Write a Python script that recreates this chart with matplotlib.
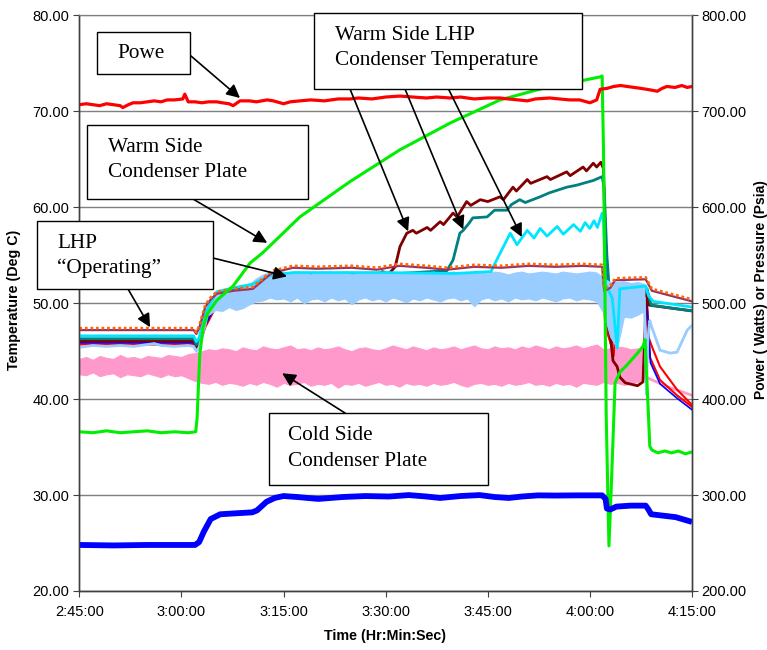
import numpy as np
import matplotlib
matplotlib.use("Agg")
import matplotlib.pyplot as plt
from matplotlib.patches import Rectangle

# ---------------- data (time in minutes after 2:45:00) ----------------
tick_minutes = [0, 15, 30, 45, 60, 75, 90]
tick_labels = ["2:45:00", "3:00:00", "3:15:00", "3:30:00", "3:45:00", "4:00:00", "4:15:00"]
temp_ticks = [20, 30, 40, 50, 60, 70, 80]
right_ticks = [200, 300, 400, 500, 600, 700, 800]

# Power (Watts, right axis)
t_power = [0, 1, 2, 3, 4, 5, 6, 6.4, 7.2, 7.9, 9, 10, 11, 12, 12.9, 14, 15.2, 15.5, 16.0, 17, 18, 19,
           20.2, 21, 22, 22.6, 23.6, 25, 26, 27.6, 28.5, 30.0, 31, 32.4, 34, 36, 38, 39.8, 41, 43, 45,
           47.1, 49, 51, 52.5, 54.5, 56, 58, 60, 61.8, 63, 64.5, 65.8, 67, 69.1, 70.5, 72, 73.5, 75.0,
           76.0, 76.5, 77.5, 78.5, 79.5, 80.5, 81.5, 82.5, 83.4, 84.2, 84.9, 85.6, 86.3, 87.5, 88.5, 89.3, 90]
power = [707, 708, 707, 706, 708, 707, 706, 704, 707, 709, 709, 710, 711, 710, 712, 712, 713, 718, 710, 710, 709, 710,
         710, 709, 708, 706, 711, 711, 710, 712, 711, 708, 710, 711, 712, 711, 713, 713, 714, 713, 715,
         716, 715, 714, 715, 714, 715, 713, 714, 714, 713, 712, 711, 713, 714, 713, 712, 712, 709,
         712, 723, 724, 726, 727, 726, 725, 724, 723, 722, 721, 724, 726, 725, 727, 725, 726]

# Pressure (psia, right axis)
t_press = [0, 5, 10, 15, 17.0, 17.6, 18.3, 19.3, 20.7, 23.0, 25.4, 26.1, 27.5, 28.7, 30.0, 32.0, 35.1, 38.7, 42.0,
           45.5, 48.4, 51.0, 53.0, 56.0, 58.8, 61.0, 63.1, 65.0, 67.4, 70.0, 73.0, 76.8, 77.3, 77.5, 78.0, 78.9,
           81.0, 83.2, 83.6, 84.0, 87.6, 90]
pressure = [248, 247.5, 248, 248, 248, 251, 262, 275, 280, 281, 282, 284, 293, 297, 299, 298, 296, 298, 299,
            298.5, 300, 298.5, 297, 299, 300, 298, 297, 298.5, 299.7, 299.5, 299.7, 299.7, 296, 286, 285, 288,
            289, 289, 285, 280, 277, 272]

# Green temperature
t_green = [0, 2, 4, 6, 8, 10, 12, 14, 16, 17.1, 17.3, 17.7, 18.2, 18.8, 20.2, 22.6, 25.1, 27.0, 32.4, 39.8,
           47.1, 54.5, 61.8, 69.1, 73.8, 76.5, 76.8, 77.0, 77.4, 77.8, 78.1, 78.7, 79.4, 80.5, 82.0, 82.8,
           83.1, 83.5, 83.8, 84.1, 85, 86, 87, 88, 89, 90]
green = [36.6, 36.5, 36.7, 36.5, 36.6, 36.7, 36.5, 36.6, 36.5, 36.6, 38.0, 44.7, 47.5, 48.9, 50.3, 51.8, 54.2,
         55.3, 59.0, 62.7, 66.0, 68.8, 71.2, 72.6, 73.2, 73.6, 73.7, 66.0, 38.2, 24.7, 30.0, 41.7, 42.8, 43.6,
         44.8, 45.5, 46.2, 40.0, 35.1, 34.7, 34.4, 34.6, 34.4, 34.6, 34.3, 34.5]

# Band temperatures
t_orange = [0, 8, 16.8, 17.2, 17.6, 18.5, 19.3, 20.2, 22.6, 25.5, 26.5, 28.0, 28.5, 31.4, 35, 40, 43.7, 47, 51,
            54, 58, 62, 66, 70, 74, 76.8, 77.1, 78.0, 78.7, 83.2, 84.1, 90]
orange = [47.4, 47.4, 47.4, 47.0, 47.6, 49.8, 50.6, 51.2, 51.5, 51.7, 52.3, 53.2, 53.4, 53.9, 53.8, 53.9, 53.7,
          54.1, 53.9, 53.7, 54.0, 53.9, 54.1, 54.0, 54.1, 54.0, 51.5, 51.8, 52.6, 52.7, 51.5, 50.4]
purple = [47.2, 47.2, 47.2, 46.8, 47.4, 49.6, 50.4, 51.0, 51.3, 51.5, 52.1, 53.0, 53.2, 53.7, 53.6, 53.7, 53.5,
          53.9, 53.7, 53.5, 53.8, 53.7, 53.9, 53.8, 53.9, 53.8, 51.3, 51.6, 52.4, 52.5, 51.3, 50.2]

t_cyan = [0, 16.8, 17.2, 17.6, 18.5, 20.2, 22.6, 25.5, 28.0, 31.4, 45, 55, 60.5, 60.8, 61.8, 63.3, 64.3, 65.8,
          66.8, 67.7, 68.7, 70.2, 71.1, 72.6, 73.6, 74.3, 75.0, 75.6, 76.1, 76.8, 77.0, 77.3, 78.3, 79.0, 79.4,
          83.2, 83.6, 84.3, 90]
cyan = [46.6, 46.6, 46.0, 46.4, 49.0, 51.2, 51.6, 52.0, 52.9, 53.2, 53.2, 53.1, 53.3, 53.8, 55.2, 57.3, 56.1,
        57.6, 56.8, 57.8, 57.0, 58.0, 57.2, 58.2, 57.5, 58.4, 57.8, 58.6, 57.9, 59.4, 58.5, 52.0, 50.5, 45.3,
        51.5, 51.8, 50.8, 50.2, 49.6]

t_teal = [0, 16.8, 17.2, 17.6, 18.5, 20.2, 22.6, 25.5, 28.0, 31.4, 34, 34.4, 34.8, 44, 44.3, 44.7, 54.0, 54.9,
          55.9, 56.4, 57.2, 57.8, 59.9, 61.0, 62.8, 63.5, 64.7, 65.5, 67.7, 69.0, 71.6, 73.0, 75.5, 76.8, 77.1,
          77.5, 78.0, 79.0, 79.4, 83.0, 83.4, 84.0, 90]
teal = [46.3, 46.3, 45.7, 46.1, 48.6, 51.0, 51.4, 51.8, 52.8, 53.0, 53.0, 52.0, 53.0, 53.0, 52.2, 53.0, 53.4,
        54.5, 57.3, 57.6, 58.3, 58.9, 59.0, 59.7, 59.7, 60.3, 60.8, 60.5, 61.1, 61.5, 62.1, 62.3, 62.8, 63.2,
        62.0, 55.0, 50.0, 45.6, 50.8, 51.2, 51.5, 49.8, 49.2]

t_maroon = [0, 16.8, 17.2, 17.6, 18.5, 20.2, 22.6, 25.5, 28.0, 31.4, 43.7, 44.5, 45.5, 46.4, 47.1, 48.1, 49.0,
            49.5, 51.1, 51.6, 53.0, 53.5, 54.9, 55.5, 56.9, 57.5, 58.9, 60.0, 61.8, 62.3, 63.7, 64.2, 65.8,
            66.3, 68.7, 69.2, 71.6, 72.1, 74.0, 74.5, 75.5, 76.0, 76.6, 77.0, 77.5, 78.4, 79.0, 79.4, 80.2,
            82.0, 82.8, 83.3, 83.7, 90]
maroon = [46.1, 46.1, 45.5, 45.9, 48.2, 50.6, 51.0, 51.5, 52.4, 52.7, 53.0, 53.3, 53.1, 53.8, 55.9, 57.3, 57.6,
          57.3, 57.9, 57.6, 58.5, 58.2, 59.4, 59.0, 60.6, 60.2, 60.8, 60.6, 61.1, 60.8, 62.1, 61.7, 62.9,
          62.5, 63.2, 62.9, 63.7, 63.3, 64.2, 63.8, 64.6, 64.2, 64.7, 64.0, 50.0, 44.0, 43.4, 42.3, 41.7,
          41.4, 41.8, 50.8, 49.8, 49.2]

t_red = [0, 16.8, 17.2, 17.6, 18.5, 20.2, 22.6, 25.5, 28.0, 31.4, 32.0, 32.2, 32.5, 53.6, 54.0, 54.4, 62.0,
         62.3, 62.6, 76.8, 77.3, 78.0, 78.5, 79.0, 83.3, 83.6, 84.1, 85.3, 87.8, 90]
red = [45.8, 45.8, 45.2, 45.6, 47.6, 49.9, 50.6, 51.2, 52.2, 52.6, 52.6, 51.9, 52.6, 52.6, 51.6, 52.6, 52.6,
       51.8, 52.6, 52.6, 48.0, 46.0, 44.5, 51.0, 51.0, 46.5, 45.5, 43.4, 41.0, 39.4]
t_red2 = [0, 16.8, 17.2, 17.6, 18.5, 20.2, 22.6, 25.5, 28.0, 31.4, 76.8, 77.3, 78.2, 79.0, 83.3, 83.8, 85.3,
          87.8, 90]
red2 = [45.7, 45.7, 45.1, 45.5, 47.5, 49.8, 50.5, 51.1, 52.1, 52.5, 52.5, 47.5, 45.5, 51.0, 51.0, 44.4, 42.0,
        40.4, 39.2]
t_blue_t = [0, 16.8, 17.2, 17.6, 18.5, 20.2, 22.6, 25.5, 28.0, 31.4, 76.8, 77.3, 78.2, 79.0, 83.3, 83.9, 85.3,
            87.8, 90]
blue_t = [45.9, 45.9, 45.3, 45.7, 47.7, 50.0, 50.7, 51.3, 52.3, 52.6, 52.6, 48.5, 46.0, 51.2, 51.2, 43.8, 41.6,
          40.1, 38.9]

# Light blue: calm start, noisy envelope (hi, lo) each minute from t=19, smooth tail
t_lb_start = [0, 2, 4, 6, 8, 10, 11, 12, 14, 16, 16.8, 17.2, 17.6, 18.5, 19.0]
lb_start = [45.4, 45.6, 45.5, 45.6, 45.5, 45.7, 45.8, 45.6, 45.5, 45.6, 45.5, 45.0, 45.4, 47.8, 49.5]
lb_env = [(50.3, 48.8), (51.0, 49.3), (51.3, 49.2), (51.4, 49.6), (51.3, 49.3), (51.6, 49.5), (52.0, 49.9), (52.6, 50.2), (53.0, 50.3), (53.3, 50.6),
          (53.2, 50.4), (53.3, 50.5), (53.1, 50.2), (53.2, 50.6), (53.3, 50.0), (53.0, 50.4), (53.2, 50.5), (53.3, 50.2), (53.1, 50.6), (53.2, 50.3),
          (53.3, 50.5), (53.0, 49.9), (53.2, 50.4), (53.3, 50.6), (53.1, 50.3), (53.2, 50.5), (53.3, 50.2), (53.1, 50.6), (53.2, 50.4), (53.3, 50.1),
          (53.2, 50.5), (53.0, 50.3), (53.2, 50.6), (53.3, 50.4), (53.1, 50.2), (53.2, 50.5), (53.3, 50.6), (53.1, 50.3), (53.2, 50.5), (53.3, 49.7),
          (53.2, 50.4), (53.1, 50.6), (53.3, 50.3), (53.2, 50.5), (53.0, 50.2), (53.2, 50.6), (53.3, 50.4), (53.1, 50.5), (53.2, 50.3), (53.3, 50.6),
          (53.2, 50.4), (53.1, 50.2), (53.3, 50.5), (53.2, 50.6), (53.1, 50.3), (53.2, 50.5), (53.3, 50.4), (53.2, 50.2), (52.6, 49.0), (52.2, 46.5),
          (52.2, 45.3), (52.3, 48.6), (52.1, 48.5), (52.2, 48.8), (52.0, 49.2)]
lb_env_start = 19
t_lb_tail = [83.0, 83.3, 83.5, 83.8, 84.1, 85.3, 86.8, 87.8, 89.3, 90]
lb_tail = [50.5, 40.5, 46.0, 48.2, 47.5, 45.1, 44.8, 44.9, 47.2, 47.7]

# Pink (cold side condenser plate): noisy envelope each minute from t=0, then smooth tail
pink_env = [(44.2, 42.6), (44.4, 42.5), (44.1, 42.8), (44.5, 42.4), (44.3, 42.6), (44.2, 42.7), (44.6, 42.3), (44.3, 42.6), (44.4, 42.5), (44.2, 42.4),
            (44.5, 42.7), (44.4, 42.5), (44.3, 42.3), (44.6, 42.6), (44.5, 42.4), (44.4, 42.5), (44.7, 42.2), (44.8, 41.9), (45.0, 41.7), (45.2, 41.6),
            (45.1, 41.8), (45.3, 41.5), (45.2, 41.7), (45.0, 41.6), (45.4, 41.4), (45.2, 41.7), (45.1, 41.5), (45.5, 41.8), (45.3, 41.6), (45.2, 41.3),
            (45.4, 41.7), (45.6, 41.5), (45.2, 41.6), (45.3, 41.8), (45.1, 41.4), (45.4, 41.6), (45.2, 41.5), (45.3, 41.7), (45.5, 41.2), (45.2, 41.6),
            (45.0, 41.5), (45.3, 41.7), (45.4, 41.4), (45.2, 41.6), (45.1, 41.8), (45.3, 41.5), (45.6, 41.6), (45.4, 41.3), (45.2, 41.7), (45.5, 41.5),
            (45.3, 41.6), (45.1, 41.4), (45.4, 41.7), (45.2, 41.5), (45.3, 41.6), (45.5, 41.8), (45.2, 41.5), (45.4, 41.3), (45.6, 41.6), (45.3, 41.7),
            (45.2, 41.5), (45.5, 41.6), (45.3, 41.4), (45.4, 41.7), (45.2, 41.5), (45.5, 41.6), (45.3, 41.8), (45.6, 41.5), (45.4, 41.6), (45.2, 41.4),
            (45.5, 41.7), (45.3, 41.5), (45.4, 41.6), (45.6, 41.3), (45.3, 41.7), (45.5, 41.6), (45.7, 41.5), (45.2, 41.8), (45.3, 41.6), (45.5, 41.7),
            (45.4, 41.5), (45.2, 41.6), (45.3, 41.8), (45.1, 42.2)]
t_pink_tail = [83.0, 83.5, 84.5, 86, 88, 90]
pink_tail = [42.4, 42.2, 41.9, 41.4, 40.9, 40.4]

# ---------------- figure ----------------
W, H = 767, 650
fig = plt.figure(figsize=(W / 100, H / 100), dpi=100)
ax = fig.add_axes([79.3 / W, 1 - 591 / H, (692 - 79.3) / W, (591 - 15.5) / H])
ax2 = ax.twinx()

C_PINK = "#FF99CC"
C_LB = "#99CCFF"

# pink band
pe = np.array(pink_env)
tp = np.arange(len(pe))
ax.fill_between(tp, pe[:, 1], pe[:, 0], color=C_PINK, lw=0.8, zorder=2)
ax.plot(t_pink_tail, pink_tail, color=C_PINK, lw=2, zorder=2)

ax.plot(t_red2, red2, color="#FF0000", lw=1.5, zorder=3)
ax.plot(t_red, red, color="#FF0000", lw=1.5, zorder=3)
ax.plot(t_blue_t, blue_t, color="#0000FF", lw=1.2, zorder=3)
ax.plot(t_maroon, maroon, color="#800000", lw=2, zorder=4)
ax.plot(t_teal, teal, color="#008080", lw=2, zorder=4)

# light blue
le = np.array(lb_env)
tl = lb_env_start + np.arange(len(le))
ax.plot(t_lb_start, lb_start, color=C_LB, lw=2, zorder=5)
ax.fill_between(tl, le[:, 1], le[:, 0], color=C_LB, lw=0.8, zorder=5)
ax.plot(t_lb_tail, lb_tail, color=C_LB, lw=2, zorder=5)

ax.plot(t_cyan, cyan, color="#00E5FF", lw=2, zorder=6)
ax.plot(t_orange, purple, color="#993366", lw=1.6, zorder=6)
ax.plot(t_orange, orange, color="#FF6600", lw=2, ls=(0, (1, 1)), zorder=6)
ax.plot(t_green, green, color="#00EE00", lw=2.2, zorder=7)

ax2.plot(t_power, power, color="#FF0000", lw=2.3)
ax2.plot(t_press, pressure, color="#0000FF", lw=4.2, solid_capstyle="butt")

# axes styling
ax.set_xlim(0, 90)
ax.set_ylim(20, 80)
ax2.set_ylim(200, 800)
ax.set_xticks(tick_minutes)
ax.set_xticklabels(tick_labels)
ax.set_yticks(temp_ticks)
ax.set_yticklabels([f"{v:.2f}" for v in temp_ticks])
ax2.set_yticks(right_ticks)
ax2.set_yticklabels([f"{v:.2f}" for v in right_ticks])
ax.yaxis.grid(True, color="#7F7F7F", lw=1)
ax.set_axisbelow(True)
for a in (ax, ax2):
    a.spines["top"].set_color("#7F7F7F")
    for s in ("left", "right", "bottom"):
        a.spines[s].set_color("#404040")
        a.spines[s].set_linewidth(1)
    a.tick_params(direction="out", length=4, color="#404040", labelsize=10.5)
    for lab in a.get_xticklabels() + a.get_yticklabels():
        lab.set_fontfamily("Liberation Sans")
ax.tick_params(axis="x", pad=6)
ax.tick_params(axis="y", pad=3)
ax2.tick_params(axis="y", pad=3)

fig.text(761 / W, 1 - 290 / H, "Power ( Watts) or Pressure (Psia)", rotation=90, ha="center", va="center",
         fontsize=10, fontweight="bold", fontfamily="Liberation Sans")
fig.text(14 / W, 1 - 300 / H, "Temperature (Deg C)", rotation=90, ha="center", va="center",
         fontsize=10.3, fontweight="bold", fontfamily="Liberation Sans")
fig.text(385 / W, 1 - 636 / H, "Time (Hr:Min:Sec)", ha="center", va="center",
         fontsize=10.3, fontweight="bold", fontfamily="Liberation Sans")

# annotation boxes (pixel geometry)
SERIF = "Liberation Serif"
FS = 15.3


def box(x0, y0, x1, y1):
    fig.add_artist(Rectangle((x0 / W, 1 - y1 / H), (x1 - x0) / W, (y1 - y0) / H, transform=fig.transFigure,
                             facecolor="white", edgecolor="black", lw=1, zorder=10))


def txt(x, y, s):
    fig.text(x / W, 1 - y / H, s, ha="left", va="center", fontsize=FS, fontfamily=SERIF, zorder=11)


def arrow(px, py, t, v):
    ax2.annotate("", xy=(t, v), xycoords=ax.transData, xytext=(px / W, 1 - py / H),
                 textcoords="figure fraction", annotation_clip=False,
                 arrowprops=dict(arrowstyle="-|>", color="black", lw=1.2, mutation_scale=20,
                                 shrinkA=0, shrinkB=0))


box(97, 32, 190, 74)
txt(117, 54, "Powe")
arrow(191, 56, 23.6, 71.4)

box(87, 125, 308, 199)
txt(108, 148, "Warm Side")
txt(108, 172, "Condenser Plate")
arrow(193, 199, 27.6, 56.3)

box(37, 221, 213, 289)
txt(57, 243, "LHP")
txt(57, 268, "\u201cOperating\u201d")
arrow(128, 289, 10.4, 47.5)
arrow(213, 258, 30.5, 52.8)

box(314, 13, 582, 89)
txt(335, 35, "Warm Side LHP")
txt(335, 60, "Condenser Temperature")
arrow(350, 89, 48.3, 57.5)
arrow(405, 89, 56.4, 57.7)
arrow(447, 86, 65.0, 56.9)

box(269, 413, 488, 485)
txt(288, 436, "Cold Side")
txt(288, 461, "Condenser Plate")
arrow(345, 413, 29.8, 42.7)

fig.savefig("out.png", dpi=100)
